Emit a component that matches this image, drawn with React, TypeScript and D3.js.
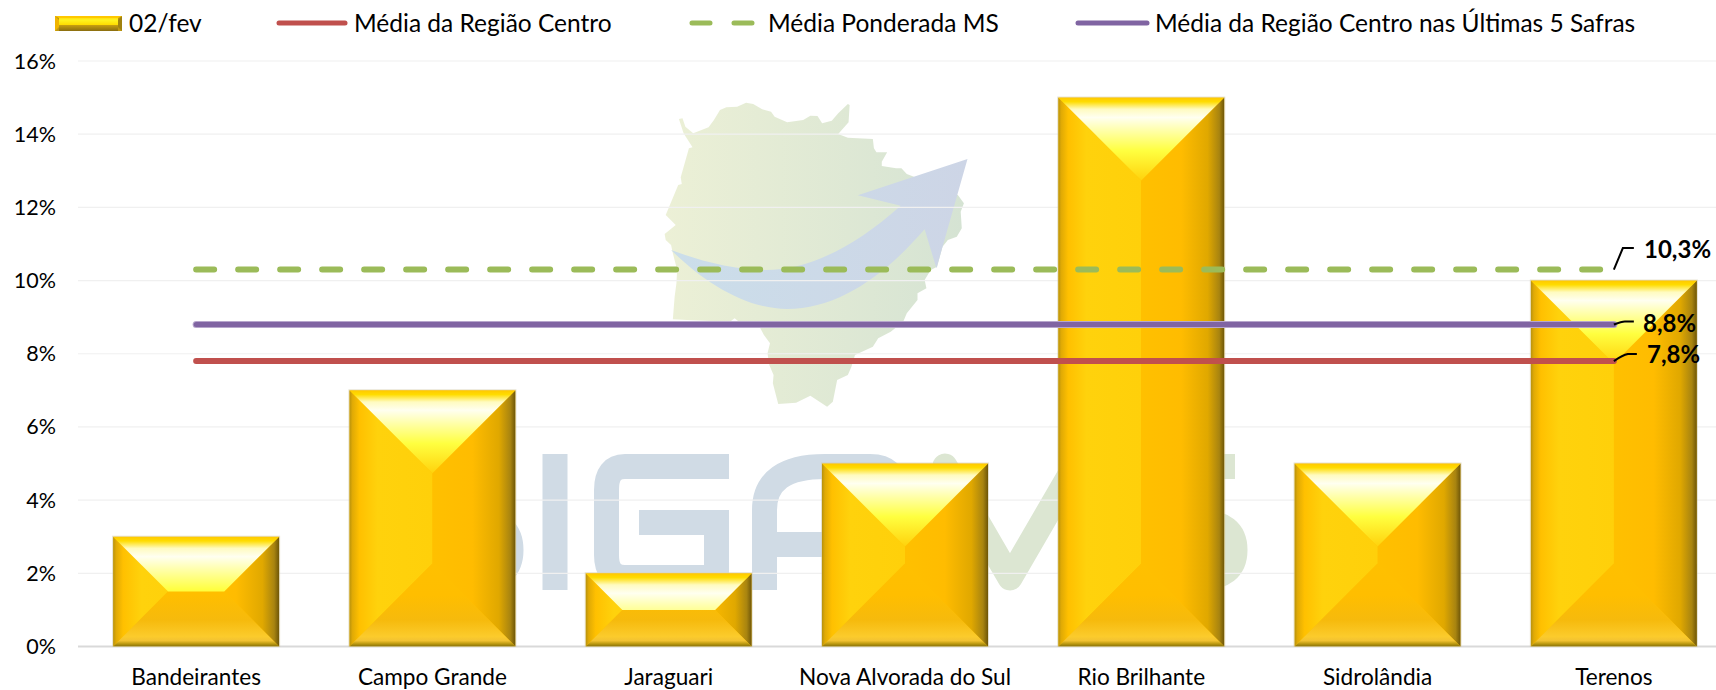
import React from "react";
import * as d3 from "d3";

const categories = ["Bandeirantes", "Campo Grande", "Jaraguari", "Nova Alvorada do Sul", "Rio Brilhante", "Sidrolândia", "Terenos"];
const safraValues = [3, 7, 2, 5, 15, 5, 10];
const mediaCentro = [7.8, 7.8, 7.8, 7.8, 7.8, 7.8, 7.8];
const mediaPonderada = [10.3, 10.3, 10.3, 10.3, 10.3, 10.3, 10.3];
const mediaCincoSafras = [8.8, 8.8, 8.8, 8.8, 8.8, 8.8, 8.8];
const yTicks = [0, 2, 4, 6, 8, 10, 12, 14, 16];
const legendLabels = ["02/fev", "Média da Região Centro", "Média Ponderada MS", "Média da Região Centro nas Últimas 5 Safras"];
const lineLabels = ["7,8%", "10,3%", "8,8%"];

const W = 1716, H = 690;
const FONT = "Lato, Carlito, Calibri, sans-serif";
const RED = "#C0504D", GREEN = "#9BBB59", PURPLE = "#8064A2";

const x = d3.scaleBand<string>().domain(categories).range([78, 1732]).paddingInner(0.2975).paddingOuter(0.14875);
const y = d3.scaleLinear().domain([0, 16]).range([646.5, 61]);
const cx = (c: string) => (x(c) as number) + x.bandwidth() / 2;
const linePath = (vals: number[]) =>
  d3.line<number>().x((_, i) => cx(categories[i])).y((v) => y(v))(vals) as string;

const mapPts = "557,87 567,85 575,110 597,130 640,112 655,90 672,60 690,52 720,50 745,38 765,42 790,58 815,65 825,80 860,97 905,90 925,77 945,78 958,100 985,92 1003,70 1030,42 1035,45 1032,97 1003,132 1030,143 1100,147 1103,175 1110,187 1140,187 1125,215 1125,228 1165,235 1180,235 1195,252 1215,260 1338,315 1355,340 1346,365 1349,415 1335,440 1310,450 1295,470 1280,530 1262,540 1245,570 1250,595 1225,610 1225,630 1195,670 1185,695 1150,725 1115,745 1100,770 1050,795 1040,830 1030,855 1000,870 988,935 972,950 925,917 885,938 835,942 820,880 822,855 810,825 805,790 812,760 795,735 785,715 725,695 713,685 700,695 580,690 540,688 545,620 550,580 552,540 540,490 535,465 520,450 517,432 548,405 520,375 555,285 565,282 562,262 585,175 595,172 570,130";
const arrowD = "M535,480 C620,570 740,657 860,657 C1000,657 1130,560 1245,418 L1278,535 L1365,207 L1058,316 L1178,347 C1050,470 920,540 800,540 C720,540 620,515 535,480 Z";

function Watermark() {
  const blue = "#D0DBE5", green = "#DCE6D2";
  const sw = 25;
  return (
    <g>
      <g transform="translate(480,90) scale(0.35714,0.33333)">
        <polygon points={mapPts} fill="url(#mapGrad)" />
        <path d={arrowD} fill="url(#arrowGrad)" />
      </g>
      <g fill="none" strokeWidth={sw} stroke={blue}>
        <path d="M510,466.5 H420 Q395,466.5 395,494 Q395,522 420,522 H480 Q511,522 511,550 Q511,578 480,578 H390" />
        <path d="M555,454 V590" />
        <path d="M729,466.5 H625 Q606.5,466.5 606.5,490 V555 Q606.5,577.5 625,577.5 H716.5 V522.5 H639" />
        <path d="M764.5,590 V510 Q764.5,466.5 825,466.5 H870 Q895,466.5 895,490 V590 M764.5,544.5 H895" />
      </g>
      <g fill="none" strokeWidth={sw} stroke={green} strokeLinejoin="round" strokeLinecap="round">
        <path d="M945,466 L1010,578 L1075,466 L1140,578" />
        <path strokeLinecap="butt" d="M1235,466.5 H1150 Q1125,466.5 1125,494 Q1125,522 1150,522 H1200 Q1235,522 1235,550 Q1235,578 1200,578 H1110" />
      </g>
    </g>
  );
}

function Bar({ cat, value, i }: { cat: string; value: number; i: number }) {
  const x0 = x(cat) as number;
  const w = x.bandwidth();
  const x1 = x0 + w;
  const top = y(value);
  const bot = y(0);
  const h = bot - top;
  const d = Math.min(w / 2, h / 2);
  const mid = x0 + w / 2;
  const pts = (a: number[][]) => a.map((p) => p.join(",")).join(" ");
  const topFace = pts([[x0, top], [x1, top], [x1 - d, top + d], [x0 + d, top + d]]);
  const botFace = pts([[x0, bot], [x1, bot], [x1 - d, bot - d], [x0 + d, bot - d]]);
  const leftFace = pts([[x0, top], [x0 + d, top + d], [x0 + d, bot - d], [x0, bot]]);
  const rightFace = pts([[x1, top], [x1 - d, top + d], [x1 - d, bot - d], [x1, bot]]);
  return (
    <g>
      <defs>
        <linearGradient id={`side${i}`} gradientUnits="userSpaceOnUse" x1={x0} x2={x1} y1={0} y2={0}>
          <stop offset="0" stopColor="#B8920E" />
          <stop offset="0.018" stopColor="#E0AA05" />
          <stop offset="0.06" stopColor="#FFC000" />
          <stop offset="0.17" stopColor="#FFD20C" />
          <stop offset="0.499" stopColor="#FFD00A" />
          <stop offset="0.501" stopColor="#FFC000" />
          <stop offset="0.74" stopColor="#FFBC00" />
          <stop offset="0.9" stopColor="#E0A800" />
          <stop offset="0.97" stopColor="#A88410" />
          <stop offset="1" stopColor="#6E5608" />
        </linearGradient>
        <linearGradient id={`top${i}`} gradientUnits="userSpaceOnUse" x1={0} x2={0} y1={top} y2={top + 83}>
          <stop offset="0" stopColor="#FFC800" />
          <stop offset="0.05" stopColor="#FFDC00" />
          <stop offset="0.14" stopColor="#FFFBC0" />
          <stop offset="0.24" stopColor="#FFFFF0" />
          <stop offset="0.4" stopColor="#FFFFA8" />
          <stop offset="0.64" stopColor="#FFFF40" />
          <stop offset="1" stopColor="#FFD20C" />
        </linearGradient>
        <linearGradient id={`bot${i}`} gradientUnits="userSpaceOnUse" x1={0} x2={0} y1={bot} y2={bot - 83}>
          <stop offset="0" stopColor="#86700E" />
          <stop offset="0.03" stopColor="#B8960E" />
          <stop offset="0.07" stopColor="#F2C232" />
          <stop offset="0.12" stopColor="#FBCB2C" />
          <stop offset="0.32" stopColor="#F6BA0C" />
          <stop offset="0.62" stopColor="#FFBE00" />
          <stop offset="1" stopColor="#FFC000" />
        </linearGradient>
      </defs>
      <rect x={x0} y={top} width={w} height={h} fill="#FFC000" />
      <polygon points={leftFace} fill={`url(#side${i})`} />
      <polygon points={rightFace} fill={`url(#side${i})`} />
      <polygon points={botFace} fill={`url(#bot${i})`} />
      <polygon points={topFace} fill={`url(#top${i})`} />
      <rect x={x0 - 0.5} y={top - 0.5} width={w + 1} height={h + 0.5} fill="none" stroke="#CFC8A8" strokeOpacity={0.55} strokeWidth={1} />
    </g>
  );
}

function LegendSwatch() {
  const l = 55, r = 122, t = 16, b = 31, m = 25, s = 4;
  return (
    <g>
      <rect x={l} y={t} width={r - l} height={b - t} fill="#C09810" />
      <rect x={l + s} y={t} width={r - l - 2 * s} height={m - t} fill="url(#swTop)" />
      <rect x={l + s} y={m} width={r - l - 2 * s} height={b - m} fill="url(#swBot)" />
      <polygon points={`${l},${t} ${l + s},${t + s} ${l + s},${b - s} ${l},${b}`} fill="#F0B400" />
      <polygon points={`${r},${t} ${r - s},${t + s} ${r - s},${b - s} ${r},${b}`} fill="#A08210" />
      <polygon points={`${l},${t} ${r},${t} ${r - s},${t + 2} ${l + s},${t + 2}`} fill="#FFC800" />
    </g>
  );
}

export default function App() {
  const textStyle = { fontFamily: FONT, fill: "#000" };
  const lineEnd = cx(categories[6]);
  return (
    <svg width={W} height={H} viewBox={`0 0 ${W} ${H}`} style={{ position: "absolute", left: 0, top: 0, display: "block", background: "#fff" }}>
      <defs>
        <linearGradient id="mapGrad" x1="0" x2="1" y1="0" y2="0">
          <stop offset="0" stopColor="#ECF0D6" />
          <stop offset="1" stopColor="#D5E3D3" />
        </linearGradient>
        <linearGradient id="arrowGrad" x1="0" x2="1" y1="0" y2="0">
          <stop offset="0" stopColor="#CBDEEA" />
          <stop offset="1" stopColor="#CDD5E6" />
        </linearGradient>
        <linearGradient id="swTop" x1="0" x2="0" y1="0" y2="1">
          <stop offset="0" stopColor="#FFCC00" />
          <stop offset="0.45" stopColor="#FFF420" />
          <stop offset="1" stopColor="#FFDC00" />
        </linearGradient>
        <linearGradient id="swBot" x1="0" x2="0" y1="0" y2="1">
          <stop offset="0" stopColor="#C8A010" />
          <stop offset="1" stopColor="#8A6D10" />
        </linearGradient>
      </defs>

      <Watermark />

      {yTicks.filter((t) => t > 0).map((t) => (
        <line key={t} x1={78} x2={W} y1={y(t)} y2={y(t)} stroke="#F0F0F0" strokeWidth={1.2} />
      ))}
      <line x1={78} x2={W} y1={y(0)} y2={y(0)} stroke="#D9D9D9" strokeWidth={2} />

      {yTicks.map((t) => (
        <text key={t} x={56} y={y(t) + 7.5} textAnchor="end" fontSize={21.5} style={textStyle}>{`${t}%`}</text>
      ))}
      {categories.map((c) => (
        <text key={c} x={cx(c)} y={684.5} textAnchor="middle" fontSize={22.6} style={textStyle}>{c}</text>
      ))}

      {categories.map((c, i) => (
        <Bar key={c} cat={c} value={safraValues[i]} i={i} />
      ))}

      <path d={linePath(mediaCentro)} fill="none" stroke={RED} strokeWidth={6} strokeLinecap="round" />
      <path d={linePath(mediaPonderada)} fill="none" stroke={GREEN} strokeWidth={6} strokeDasharray="18 24" strokeLinecap="round" />
      <path d={linePath(mediaCincoSafras)} fill="none" stroke="#B7A6CC" strokeWidth={7} strokeLinecap="round" />
      <path d={linePath(mediaCincoSafras)} fill="none" stroke={PURPLE} strokeWidth={5} strokeLinecap="round" />

      <g fill="none" stroke="#000" strokeWidth={2}>
        <path d={`M${lineEnd},${y(10.3)} L${lineEnd + 9},${y(10.3) - 21.5} H${lineEnd + 20}`} />
        <path d={`M${lineEnd},${y(8.8)} Q${lineEnd + 8},${y(8.8) - 3} ${lineEnd + 11},${y(8.8) - 3} H${lineEnd + 20}`} />
        <path d={`M${lineEnd},${y(7.8)} Q${lineEnd + 9},${y(7.8) - 6} ${lineEnd + 14},${y(7.8) - 7} H${lineEnd + 23}`} />
      </g>
      <g fontSize={24} fontWeight={700} style={textStyle}>
        <text x={1644} y={258}>{lineLabels[1]}</text>
        <text x={1643} y={332}>{lineLabels[2]}</text>
        <text x={1647} y={363}>{lineLabels[0]}</text>
      </g>

      <LegendSwatch />
      <line x1={279} x2={345} y1={23} y2={23} stroke={RED} strokeWidth={5} strokeLinecap="round" />
      <line x1={692} x2={753} y1={23} y2={23} stroke={GREEN} strokeWidth={5} strokeLinecap="round" strokeDasharray="18 24" />
      <line x1={1078} x2={1147} y1={23} y2={23} stroke={PURPLE} strokeWidth={5} strokeLinecap="round" />
      <g fontSize={24.5} style={textStyle}>
        <text x={129} y={32}>{legendLabels[0]}</text>
        <text x={354} y={32}>{legendLabels[1]}</text>
        <text x={768} y={32}>{legendLabels[2]}</text>
        <text x={1155} y={32}>{legendLabels[3]}</text>
      </g>
    </svg>
  );
}
